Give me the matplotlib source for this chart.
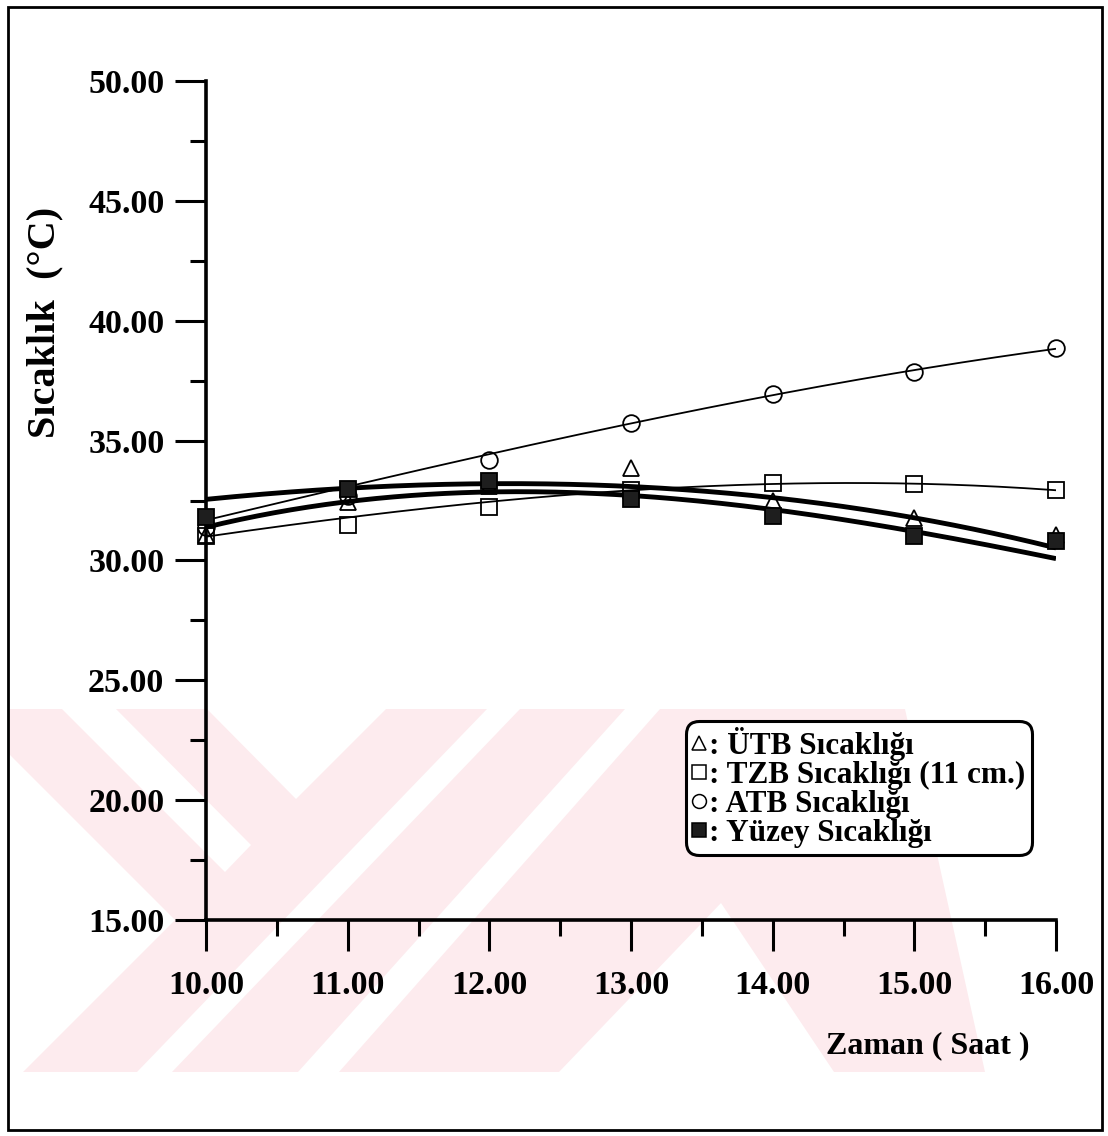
import numpy as np
import matplotlib
matplotlib.use("Agg")
import matplotlib.pyplot as plt
from matplotlib.lines import Line2D
from matplotlib.patches import Polygon, Rectangle
from matplotlib.ticker import MultipleLocator, FormatStrFormatter

W, H = 1108, 1136

# ölçüm saatleri ve sıcaklıklar (°C)
saat = [10, 11, 12, 13, 14, 15, 16]
utb = [31.06, 32.45, 33.10, 33.86, 32.50, 31.77, 31.06]
tzb = [31.00, 31.48, 32.23, 32.95, 33.23, 33.17, 32.94]
atb = [31.40, 32.70, 34.20, 35.75, 36.95, 37.85, 38.85]
yuzey = [31.80, 33.00, 33.30, 32.55, 31.85, 31.00, 30.80]

# uydurulmuş eğrilerin her saatteki değeri
utb_egri = [32.56, 33.00, 33.15, 33.15, 32.65, 31.70, 30.55]
tzb_egri = [31.00, 31.77, 32.44, 32.95, 33.20, 33.17, 32.94]
atb_egri = [31.69, 33.05, 34.45, 35.70, 36.95, 37.88, 38.85]
yuzey_egri = [31.42, 32.35, 32.94, 32.70, 32.15, 31.15, 30.10]

etiketler = [": ÜTB Sıcaklığı", ": TZB Sıcaklığı (11 cm.)",
             ": ATB Sıcaklığı", ": Yüzey Sıcaklığı"]

plt.rcParams["font.family"] = ["Liberation Serif", "DejaVu Serif"]
plt.rcParams["font.weight"] = "bold"


def px(x, y):
    return (x / W, 1 - y / H)


fig = plt.figure(figsize=(W / 100, H / 100), dpi=100)

# arka plandaki soluk pembe filigran
PEMBE = "#fdebee"
kutu = Rectangle(px(8, 1072), (1000 - 8) / W, (1072 - 709) / H,
                 transform=fig.transFigure, fc=PEMBE, ec="none", zorder=-20)
fig.add_artist(kutu)
bosluklar = [
    [(8, 753), (175, 920), (23, 1072), (8, 1072)],
    [(62, 709), (116, 709), (251, 845), (225, 872)],
    [(207, 709), (386, 709), (296, 799)],
    [(487, 709), (520, 709), (172, 1072), (137, 1072)],
    [(625, 709), (660, 709), (339, 1072), (298, 1072)],
    [(721, 903), (834, 1072), (559, 1072)],
    [(905, 709), (1000, 709), (1000, 1072), (985, 1072)],
]
for b in bosluklar:
    p = Polygon([px(x, y) for x, y in b], closed=True,
                transform=fig.transFigure, fc="white", ec="none", zorder=-19)
    fig.add_artist(p)
    p.set_clip_path(kutu)

# dış çerçeve
fig.add_artist(Rectangle(px(8, 1130), (1102 - 8) / W, (1130 - 7) / H,
                         transform=fig.transFigure, fill=False,
                         ec="k", lw=2.0, zorder=5))

ax = fig.add_axes([206 / W, 1 - 920 / H, 850 / W, 839 / H])
ax.set_facecolor("none")
ax.set_xlim(10, 16)
ax.set_ylim(15, 50)

xs = np.linspace(10, 16, 300)
for egri, lw in [(atb_egri, 1.3), (tzb_egri, 1.3),
                 (utb_egri, 3.5), (yuzey_egri, 3.5)]:
    k = np.polyfit(saat, egri, 3)
    ax.plot(xs, np.polyval(k, xs), color="k", lw=lw, solid_capstyle="butt")

stil = dict(ls="none", ms=12, mec="k", mew=1.3, clip_on=False, zorder=4)
ax.plot(saat, utb, marker="^", mfc="none", **stil)
ax.plot(saat, tzb, marker="s", mfc="none", **stil)
ax.plot(saat, atb, marker="o", mfc="none", **stil)
ax.plot(saat, yuzey, marker="s", mfc="#1e1e1e", **stil)

for s in ("top", "right"):
    ax.spines[s].set_visible(False)
for s in ("left", "bottom"):
    ax.spines[s].set_linewidth(2.6)

ax.xaxis.set_major_locator(MultipleLocator(1))
ax.xaxis.set_minor_locator(MultipleLocator(0.5))
ax.yaxis.set_major_locator(MultipleLocator(5))
ax.yaxis.set_minor_locator(MultipleLocator(2.5))
ax.xaxis.set_major_formatter(FormatStrFormatter("%.2f"))
ax.yaxis.set_major_formatter(FormatStrFormatter("%.2f"))
ax.tick_params(which="major", direction="out", length=22, width=2.2,
               labelsize=24.5)
ax.tick_params(which="minor", direction="out", length=11.5, width=2.2)
ax.tick_params(axis="x", which="major", pad=14)
ax.tick_params(axis="y", which="major", pad=8)

fig.text(*px(45, 322), "Sıcaklık  (°C)", rotation=90, ha="center",
         va="center", fontsize=29)
fig.text(*px(1030, 1053), "Zaman ( Saat )", ha="right", va="baseline",
         fontsize=23)

tut = dict(ls="none", ms=10, mec="k", mew=1.1)
isaretler = [Line2D([], [], marker="^", mfc="none", **tut),
             Line2D([], [], marker="s", mfc="none", **tut),
             Line2D([], [], marker="o", mfc="none", **tut),
             Line2D([], [], marker="s", mfc="#1e1e1e", **tut)]
leg = ax.legend(isaretler, etiketler, loc="upper left",
                bbox_to_anchor=px(686, 721), bbox_transform=fig.transFigure,
                borderaxespad=0, prop=dict(size=22.5, weight="bold"),
                handlelength=0.45, handletextpad=0.1, borderpad=0.2,
                labelspacing=0.0, framealpha=1, fancybox=True)
fr = leg.get_frame()
fr.set_linewidth(2.2)
fr.set_edgecolor("k")
fr.set_boxstyle("round,pad=0,rounding_size=0.4")

fig.savefig("out.png", dpi=100)
